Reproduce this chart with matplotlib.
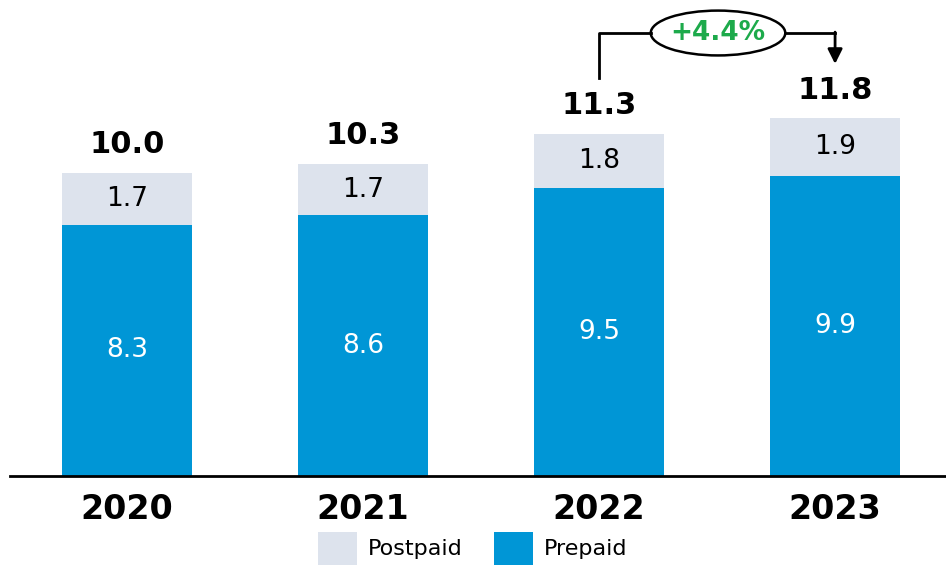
import matplotlib.pyplot as plt
from matplotlib.patches import Ellipse, Patch
import numpy as np

years = ["2020", "2021", "2022", "2023"]
prepaid = [8.3, 8.6, 9.5, 9.9]
postpaid = [1.7, 1.7, 1.8, 1.9]
totals = [10.0, 10.3, 11.3, 11.8]
growth_label = "+4.4%"

c_pre = "#0096D6"
c_post = "#DDE3ED"
c_green = "#1DAA4B"

fig = plt.figure(figsize=(9.46, 5.65), dpi=100)
ax = fig.add_axes([10 / 946, 89 / 565, 936 / 946, 476 / 565])

x = np.arange(len(years))
w = 0.551
ax.bar(x, prepaid, w, color=c_pre)
ax.bar(x, postpaid, w, bottom=prepaid, color=c_post)

for i in range(len(years)):
    ax.text(x[i], prepaid[i] / 2, f"{prepaid[i]:.1f}", ha="center", va="center",
            color="white", fontsize=19)
    ax.text(x[i], prepaid[i] + postpaid[i] / 2, f"{postpaid[i]:.1f}", ha="center",
            va="center", color="black", fontsize=19)
    ax.text(x[i], totals[i] + 0.45, f"{totals[i]:.1f}", ha="center", va="bottom",
            color="black", fontsize=22, fontweight="bold")

ax.set_xlim(-0.4958, 3.47)
ax.set_ylim(0, 476 / 30.3)
ax.set_xticks(x)
ax.set_xticklabels(years, fontsize=24, fontweight="bold")
ax.tick_params(axis="x", length=0, pad=12)
ax.set_yticks([])
for s in ["top", "right", "left"]:
    ax.spines[s].set_visible(False)
ax.spines["bottom"].set_linewidth(2)

# growth bracket between 2022 and 2023
y_top = 14.62
x0, x1 = x[2], x[3]
xm = (x0 + x1) / 2 + 0.004
ew, eh = 0.57, 1.48
ax.plot([x0, x0, xm - ew / 2], [totals[2] + 1.83, y_top, y_top], color="black", lw=2,
        clip_on=False)
ax.plot([xm + ew / 2, x1], [y_top, y_top], color="black", lw=2, clip_on=False)
ax.annotate("", xy=(x1, totals[3] + 1.8), xytext=(x1, y_top + 0.03),
            arrowprops=dict(arrowstyle="-|>", color="black", lw=2,
                            mutation_scale=22, shrinkA=0, shrinkB=0),
            annotation_clip=False)
ax.add_patch(Ellipse((xm, y_top), ew, eh, facecolor="white", edgecolor="black",
                     lw=1.8, clip_on=False))
ax.text(xm, y_top, growth_label, ha="center", va="center", color=c_green,
        fontsize=19, fontweight="bold")

handles = [Patch(facecolor=c_post, label="Postpaid"), Patch(facecolor=c_pre, label="Prepaid")]
fig.legend(handles=handles, loc="lower center", bbox_to_anchor=(0.5, -0.035), ncol=2,
           frameon=False, fontsize=16, handlelength=1.75, handleheight=1.9,
           columnspacing=1.4, handletextpad=0.5)

fig.savefig("out.png", dpi=100)
